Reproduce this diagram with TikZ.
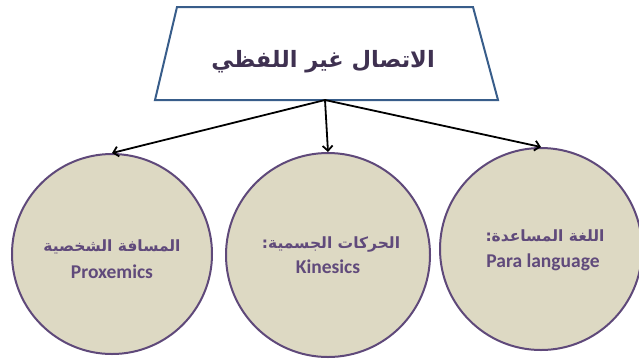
\documentclass[tikz,border=0pt]{standalone}
\usepackage{fontspec}
\usetikzlibrary{arrows.meta}
\TeXXeTstate=1
\newfontfamily\arabicfont[Script=Arabic]{DejaVu Sans}
\newfontfamily\latinfont{Carlito}

\definecolor{beige}{HTML}{DDD9C3}
\definecolor{ringpurple}{HTML}{5F497A}
\definecolor{labelpurple}{HTML}{604A7B}
\definecolor{boxblue}{HTML}{385D8A}
\definecolor{titleink}{HTML}{3F3151}

\tikzset{
  topic/.style={circle, draw=ringpurple, line width=2pt, fill=beige,
    minimum size=#1, inner sep=0pt},
  arlabel/.style={anchor=base, text=labelpurple, inner sep=0pt,
    font=\arabicfont\bfseries\fontsize{15.5}{18}\selectfont},
  enlabel/.style={anchor=base, text=labelpurple, inner sep=0pt,
    font=\latinfont\bfseries\fontsize{19.5}{22}\selectfont},
  link/.style={-{Straight Barb[length=5pt,width=10pt]}, line width=1.8pt, black},
}

\begin{document}
\begin{tikzpicture}[x=1pt, y=-1pt]
  \useasboundingbox (0,0) rectangle (639,360);

  % Draw the title box
  \draw[boxblue, line width=2pt, fill=white]
    (177,7) -- (473,7) -- (498,100) -- (155,100) -- cycle;
  \node[text=titleink, font=\arabicfont\bfseries\fontsize{22.5}{26}\selectfont]
    (title) at (323,62) {\beginR الاتصال غير اللفظي\endR};
  \coordinate (base) at (325,100);

  % The three kinds
  \node[topic=200pt] (proxemics) at (112,254) {};
  \node[topic=204pt] (kinesics) at (328,255) {};
  \node[topic=202pt] (paralang) at (541,249) {};

  % Their labels
  \node[arlabel] (proxemics-ar) at (112,251) {\beginR المسافة الشخصية\endR};
  \node[enlabel] (proxemics-en) at (112,278) {Proxemics};
  \node[arlabel] (kinesics-ar) at (331,248) {\beginR الحركات الجسمية:\endR};
  \node[enlabel] (kinesics-en) at (328,273) {Kinesics};
  \node[arlabel] (paralang-ar) at (545,241) {\beginR اللغة المساعدة:\endR};
  \node[enlabel] (paralang-en) at (543,267) {Para language};

  % Arrows from the title
  \draw[link] (base) -- (proxemics.north);
  \draw[link] (base) -- (kinesics.north);
  \draw[link] (base) -- (paralang.north);
\end{tikzpicture}
\end{document}
